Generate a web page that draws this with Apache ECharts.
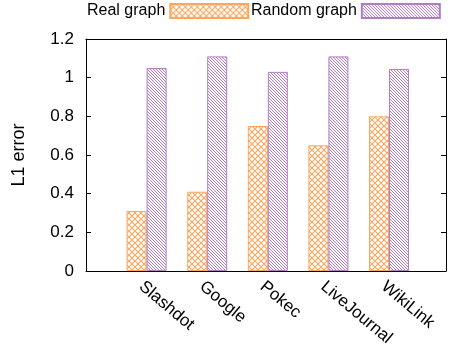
<!DOCTYPE html>
<html>
<head>
<meta charset="utf-8">
<script src="https://cdn.jsdelivr.net/npm/echarts@6/dist/echarts.min.js"></script>
<style>
  html, body { margin: 0; padding: 0; background: #fff; }
  #chart { width: 450px; height: 348px; }
</style>
</head>
<body>
<div id="chart"></div>
<script>
// Datasets and L1 error of the estimates on the real and on a random graph
const categories = ['Slashdot', 'Google', 'Pokec', 'LiveJournal', 'WikiLink'];
const realGraph = [0.31, 0.41, 0.75, 0.65, 0.80];
const randomGraph = [1.05, 1.11, 1.03, 1.11, 1.045];
const yTicks = [0, 0.2, 0.4, 0.6, 0.8, 1, 1.2];

const ORANGE = '#fba65c';
const PURPLE = '#b27cc4';
const FONT = '"Liberation Sans", Arial, sans-serif';

// Crosshatch fill (diamonds)
function crossPattern(color) {
  const s = 6;
  const c = document.createElement('canvas');
  c.width = s; c.height = s;
  const g = c.getContext('2d');
  g.fillStyle = '#fff';
  g.fillRect(0, 0, s, s);
  g.strokeStyle = color;
  g.lineWidth = 1.1;
  for (let k = -1; k <= 1; k++) {
    g.beginPath();
    g.moveTo(k * s - 1, -1); g.lineTo(k * s + s + 1, s + 1);
    g.moveTo(k * s - 1, s + 1); g.lineTo(k * s + s + 1, -1);
    g.stroke();
  }
  return { image: c, repeat: 'repeat' };
}

// Dense back-slash hatching
function hatchPattern(color) {
  const s = 3;
  const c = document.createElement('canvas');
  c.width = s; c.height = s;
  const g = c.getContext('2d');
  g.fillStyle = '#fff';
  g.fillRect(0, 0, s, s);
  g.strokeStyle = color;
  g.lineWidth = 1;
  for (let k = -1; k <= 1; k++) {
    g.beginPath();
    g.moveTo(k * s - 1, -1); g.lineTo(k * s + s + 1, s + 1);
    g.stroke();
  }
  return { image: c, repeat: 'repeat' };
}

const realData = realGraph.map((v, i) => [i, v]);
const randomData = randomGraph.map((v, i) => [i, v]);

function frameLine() {
  return { show: true, onZero: false, lineStyle: { color: '#000', width: 1 } };
}

function legendBox(name, left) {
  return {
    data: [name],
    left: left, top: 3,
    padding: 0,
    align: 'right',
    icon: 'rect',
    itemWidth: 78, itemHeight: 14,
    textStyle: { fontSize: 16, fontFamily: FONT, color: '#000' }
  };
}

const chart = echarts.init(document.getElementById('chart'), null, { renderer: 'canvas' });
chart.setOption({
  animation: false,
  backgroundColor: '#fff',
  textStyle: { fontFamily: FONT, color: '#000' },
  legend: [legendBox('Real graph', 87), legendBox('Random graph', 251)],
  grid: {
    left: 86, top: 39, right: 4, bottom: 77,
    outerBoundsMode: 'none',
    containLabel: false
  },
  xAxis: [{
    type: 'value',
    min: -1, max: 4.94, interval: 1,
    splitLine: { show: false },
    axisLine: frameLine(),
    axisTick: { show: false },
    axisLabel: {
      show: true, rotate: -40, margin: 7,
      verticalAlign: 'top',
      fontSize: 17, fontFamily: FONT, color: '#000',
      showMaxLabel: false,
      formatter: v => (Number.isInteger(v) && v >= 0 && v < categories.length) ? categories[v] : ''
    }
  }],
  yAxis: [{
    type: 'value',
    min: 0, max: 1.2, interval: 0.2,
    name: 'L1 error', nameLocation: 'middle', nameRotate: 90, nameGap: 58,
    nameTextStyle: { fontSize: 18, fontFamily: FONT, color: '#000' },
    splitLine: { show: false },
    axisLine: frameLine(),
    axisTick: { show: true, inside: true, length: 5, lineStyle: { color: '#000' } },
    axisLabel: {
      fontSize: 17, fontFamily: FONT, color: '#000', margin: 12,
      formatter: v => String(yTicks.find(t => Math.abs(t - v) < 1e-9) ?? v)
    }
  }, {
    type: 'value', position: 'right',
    min: 0, max: 1.2, interval: 0.2,
    splitLine: { show: false },
    axisLine: frameLine(),
    axisTick: { show: true, inside: true, length: 5, lineStyle: { color: '#000' } },
    axisLabel: { show: false }
  }],
  series: [{
    name: 'Real graph',
    type: 'bar',
    data: realData,
    barWidth: 20,
    barGap: '0%',
    itemStyle: { color: crossPattern(ORANGE), borderColor: ORANGE, borderWidth: 1 }
  }, {
    name: 'Random graph',
    type: 'bar',
    data: randomData,
    barWidth: 20,
    barGap: '0%',
    itemStyle: { color: hatchPattern(PURPLE), borderColor: PURPLE, borderWidth: 1 }
  }]
});

// Top edge of the plot frame, placed through the axes' own pixel conversion
const xMin = -1, xMax = 4.94, yMax = 1.2;
const pA = chart.convertToPixel({ xAxisIndex: 0, yAxisIndex: 0 }, [xMin, yMax]);
const pB = chart.convertToPixel({ xAxisIndex: 0, yAxisIndex: 0 }, [xMax, yMax]);
const yTop = Math.round(pA[1]) + 0.5;
chart.setOption({
  graphic: [{
    type: 'line', silent: true, z: 50,
    shape: { x1: pA[0] - 0.5, y1: yTop, x2: pB[0] + 0.5, y2: yTop },
    style: { stroke: '#000', lineWidth: 1 }
  }]
});
</script>
</body>
</html>
